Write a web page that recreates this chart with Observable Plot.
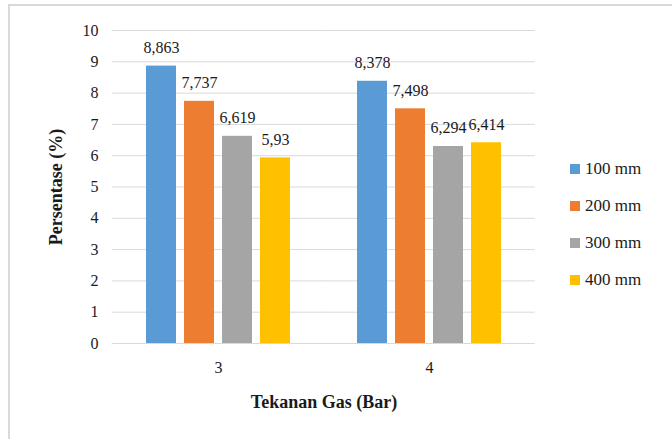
<!DOCTYPE html>
<html>
<head>
<meta charset="utf-8">
<script src="https://cdn.jsdelivr.net/npm/d3@7"></script>
<script src="https://cdn.jsdelivr.net/npm/@observablehq/plot@0.6"></script>
<style>
  html, body { margin: 0; padding: 0; background: #fff; }
  #wrap { position: relative; width: 672px; height: 439px; overflow: hidden; }
  #border { position: absolute; left: 8px; top: 4px; width: 700px; height: 500px; border-left: 2px solid #d9d9d9; border-top: 2px solid #d9d9d9; box-sizing: border-box; }
  #legend { position: absolute; left: 570px; top: 150px; font-size: 17px; color: #1a1a1a; z-index: 2; }
  .item { display: flex; align-items: center; height: 37px; }
  .sw { width: 10px; height: 10px; margin-right: 5px; }
  svg { position: absolute; left: 0; top: 0; }
  #wrap, #wrap * { font-family: "Liberation Serif", serif !important; }
</style>
</head>
<body>
<div id="wrap">
  <div id="border"></div>
  <div id="legend"></div>
</div>
<script>
const pressures = [3, 4];
const series = ["100 mm", "200 mm", "300 mm", "400 mm"];
const colors = ["#5B9BD5", "#ED7D31", "#A5A5A5", "#FFC000"];
const values3 = [8.863, 7.737, 6.619, 5.93];
const values4 = [8.378, 7.498, 6.294, 6.414];
const yTicks = [0, 1, 2, 3, 4, 5, 6, 7, 8, 9, 10];

const data = [];
series.forEach((s, i) => data.push({p: 3, s, v: values3[i]}));
series.forEach((s, i) => data.push({p: 4, s, v: values4[i]}));

const chart = Plot.plot({
  width: 672,
  height: 439,
  marginLeft: 141,
  marginRight: 167,
  marginTop: 30,
  marginBottom: 96,
  style: {background: "transparent", fontSize: "16px", color: "#1a1a1a"},
  fx: {domain: pressures, paddingInner: 0.28, paddingOuter: 0, axis: "bottom", tickSize: 0, tickPadding: 18, label: "Tekanan Gas (Bar)", labelAnchor: "center", labelOffset: 64, labelArrow: "none"},
  x: {domain: series, axis: null, paddingInner: 0.22, paddingOuter: 0.1},
  y: {domain: [0, 10], ticks: yTicks, tickSize: 0, tickPadding: 44, label: "Persentase (%)", labelAnchor: "center", labelOffset: 93, labelArrow: "none"},
  color: {domain: series, range: colors},
  marks: [
    Plot.ruleY(yTicks, {stroke: "#d9d9d9", strokeWidth: 1, insetLeft: -29.7, insetRight: -29.7}),
    Plot.barY(data, {fx: "p", x: "s", y: "v", fill: "s"}),
    Plot.text(data, {fx: "p", x: "s", y: "v", text: d => String(d.v).replace(".", ","), lineAnchor: "bottom", dy: -13, fontSize: 16, fill: "#1a1a1a"})
  ]
});
document.getElementById("wrap").appendChild(chart);

const svg = d3.select(chart);
svg.selectAll('[aria-label="y-axis label"], [aria-label="fx-axis label"]')
  .attr("font-weight", "bold").attr("font-size", 18).attr("fill", "#1a1a1a").attr("fill-opacity", 1);
svg.selectAll('[aria-label="y-axis label"] text').text("Persentase (%)");
svg.selectAll('[aria-label="fx-axis label"] text').text("Tekanan Gas (Bar)");
svg.selectAll('[aria-label="y-axis tick label"] text, [aria-label="fx-axis tick label"] text').attr("font-size", 16);

const leg = d3.select("#legend");
series.forEach((s, i) => {
  const it = leg.append("div").attr("class", "item");
  it.append("div").attr("class", "sw").style("background", colors[i]);
  it.append("span").text(s);
});

document.querySelectorAll("#wrap, #wrap *").forEach(el => el.style.setProperty("font-family", "'Liberation Serif', serif", "important"));
</script>
</body>
</html>
